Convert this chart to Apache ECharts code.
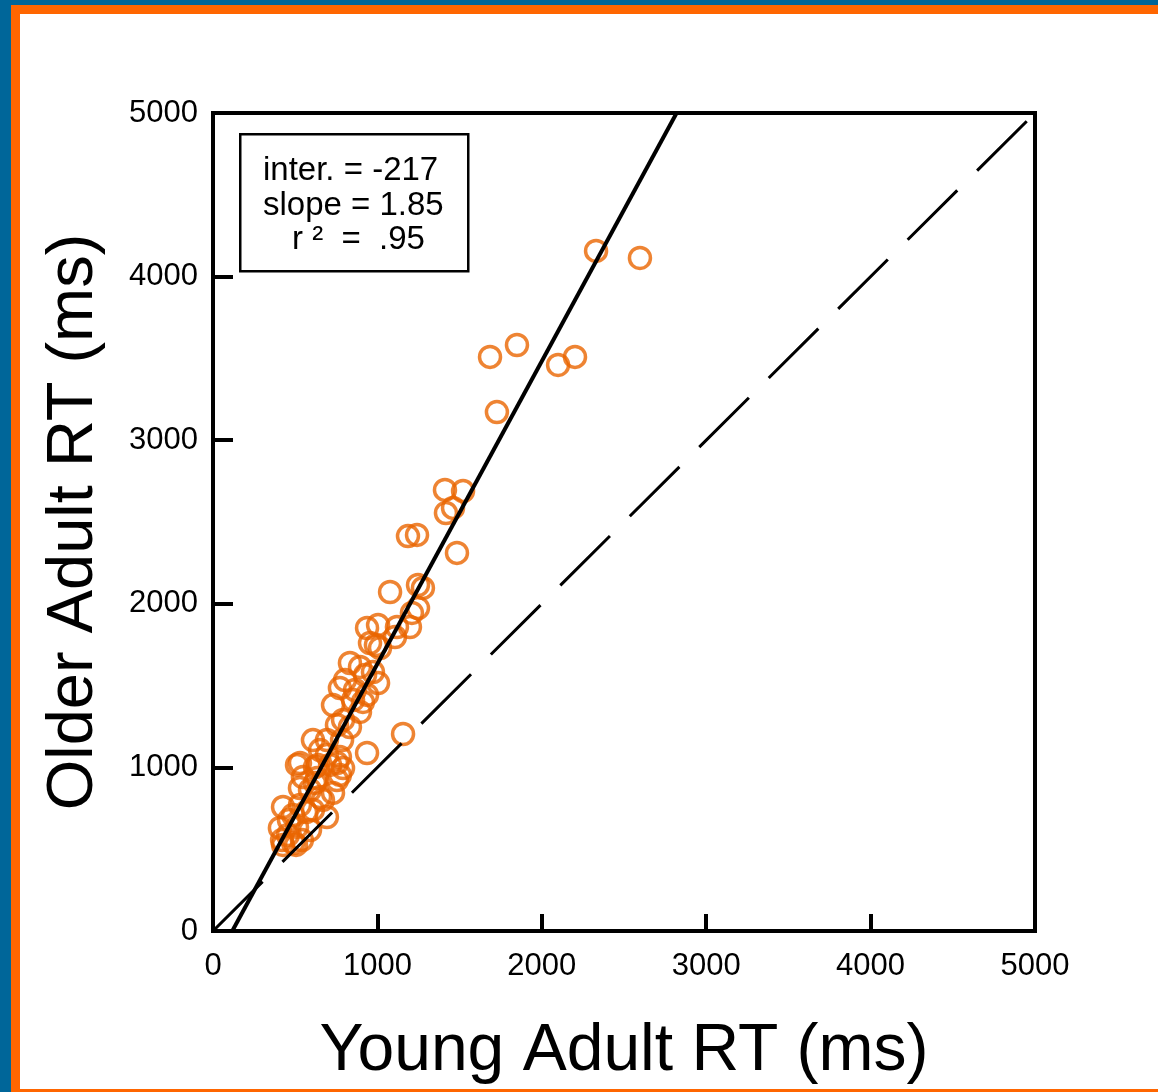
<!DOCTYPE html>
<html>
<head>
<meta charset="utf-8">
<title>Older vs Young Adult RT</title>
<script src="https://cdn.jsdelivr.net/npm/echarts@6/dist/echarts.min.js"></script>
<style>
  html, body { margin: 0; padding: 0; background: #fff; }
  .page { position: relative; width: 1158px; height: 1092px; overflow: hidden; background: #fff; }
  .edge { position: absolute; }
  /* slide frame: blue outer strip, orange inner strip */
  .blue-left { left: 0; top: 0; width: 11px; height: 1092px; background: #006699; }
  .blue-top { left: 0; top: 0; width: 1158px; height: 5px; background: #006699; }
  .orange-left { left: 11px; top: 5px; width: 9px; height: 1087px; background: #ff6600; }
  .orange-top { left: 11px; top: 5px; width: 1147px; height: 9px; background: #ff6600; }
  .orange-bottom { left: 20px; top: 1089px; width: 1138px; height: 3px; background: #ff6600; }
  #chart { position: absolute; left: 0; top: 0; width: 1158px; height: 1092px; }
</style>
</head>
<body>
<div class="page">
  <div class="edge blue-left"></div>
  <div class="edge blue-top"></div>
  <div class="edge orange-left"></div>
  <div class="edge orange-top"></div>
  <div class="edge orange-bottom"></div>
  <div id="chart"></div>
</div>
<script>
// young adult RT (x) and older adult RT (y), ms
const youngRT = [
  2330, 2597, 1685, 1849, 2099, 2202, 1727,
  1411, 1521, 1417, 1460, 1484, 1186, 1241, 1077, 1247, 1277, 1247, 1210,
  937, 1004, 1119, 1198, 1107, 991, 955, 1016,
  833, 894, 973, 1004, 772, 864, 937, 912, 730, 894, 791, 754, 833,
  937, 1156, 608, 693, 785, 651, 772, 529, 639, 754,
  511, 620, 712, 791, 529, 620, 754, 730, 426, 529, 608, 693,
  407, 511, 590, 420, 487, 541, 456,
  772, 566, 487, 651, 590, 505, 426, 462, 669, 693, 852, 803, 925, 547, 633
];
const olderRT = [
  4157, 4114, 3509, 3582, 3460, 3509, 3172,
  2696, 2689, 2555, 2586, 2311, 2414, 2421, 2072, 2115, 2097, 1974, 1944,
  1852, 1870, 1858, 1858, 1797, 1748, 1760, 1730,
  1638, 1614, 1583, 1516, 1485, 1473, 1443, 1400, 1381, 1339, 1290, 1259, 1247,
  1088, 1204, 1167, 1167, 1167, 1106, 1064, 1027, 1015, 1027,
  1015, 1002, 1015, 996, 874, 905, 923, 844, 758, 770, 740, 697,
  630, 636, 617, 556, 538, 556, 587,
  954, 727, 709, 819, 862, 526, 526, 678, 801, 1076, 1412, 1534, 1565, 941, 935
];
const axisMin = 0;
const axisMax = 5000;
const tickStep = 1000;

// regression fit printed in the box
const fitInter = -217;
const fitSlope = 1.85;
const fitR2 = '.95';

const points = youngRT.map((x, i) => [x, olderRT[i]]);
// regression line clipped to the plot range
const fitLine = [
  [(axisMin - fitInter) / fitSlope, axisMin],
  [(axisMax - fitInter) / fitSlope, axisMax]
];
const unityLine = [[axisMin, axisMin], [axisMax, axisMax]];

const font = 'Liberation Sans, Arial, sans-serif';
const plain = v => String(v); // no thousands separator
const chart = echarts.init(document.getElementById('chart'));

chart.setOption({
  animation: false,
  backgroundColor: 'transparent',
  grid: {
    left: 213, right: 123, top: 113, bottom: 161,
    show: true, borderColor: '#000', borderWidth: 4
  },
  xAxis: {
    type: 'value', min: axisMin, max: axisMax, interval: tickStep,
    name: 'Young Adult RT (ms)', nameLocation: 'middle', nameGap: 88,
    nameTextStyle: { fontFamily: font, fontSize: 66, color: '#000' },
    axisLine: { show: true, onZero: false, lineStyle: { color: '#000', width: 4 } },
    axisTick: { show: true, inside: true, length: 17, lineStyle: { color: '#000', width: 4 } },
    axisLabel: { fontFamily: font, fontSize: 31, color: '#000', margin: 20, formatter: plain },
    splitLine: { show: false }
  },
  yAxis: {
    type: 'value', min: axisMin, max: axisMax, interval: tickStep,
    name: 'Older Adult RT (ms)', nameLocation: 'middle', nameGap: 106,
    nameTextStyle: { fontFamily: font, fontSize: 65, color: '#000' },
    axisLine: { show: true, onZero: false, lineStyle: { color: '#000', width: 4 } },
    axisTick: { show: true, inside: true, length: 20, lineStyle: { color: '#000', width: 4 } },
    axisLabel: { fontFamily: font, fontSize: 31, color: '#000', margin: 15, formatter: plain },
    splitLine: { show: false }
  },
  series: [
    {
      // y = x reference
      type: 'line', data: unityLine, symbol: 'none', silent: true,
      lineStyle: { color: '#000', width: 3, type: [70, 28] }
    },
    {
      type: 'line', data: fitLine, symbol: 'none', silent: true,
      lineStyle: { color: '#000', width: 4 }
    },
    {
      type: 'scatter', data: points, symbol: 'circle', symbolSize: 21,
      itemStyle: { color: 'rgba(0,0,0,0)', borderColor: '#ea6500', borderWidth: 3.5 }
    }
  ],
  graphic: [
    {
      type: 'rect', left: 239, top: 133, z: 10,
      shape: { width: 228, height: 137 },
      style: { fill: '#fff', stroke: '#000', lineWidth: 2.5 }
    },
    {
      type: 'text', x: 263, y: 171, z: 11,
      style: { text: 'inter. = ' + fitInter, font: '33px ' + font, fill: '#000', textAlign: 'left', textVerticalAlign: 'middle' }
    },
    {
      type: 'text', x: 263, y: 206, z: 11,
      style: { text: 'slope = ' + fitSlope.toFixed(2), font: '33px ' + font, fill: '#000', textAlign: 'left', textVerticalAlign: 'middle' }
    },
    {
      type: 'text', x: 292, y: 240, z: 11,
      style: { text: 'r ²  =  ' + fitR2, font: '33px ' + font, fill: '#000', textAlign: 'left', textVerticalAlign: 'middle' }
    }
  ]
});
</script>
</body>
</html>
